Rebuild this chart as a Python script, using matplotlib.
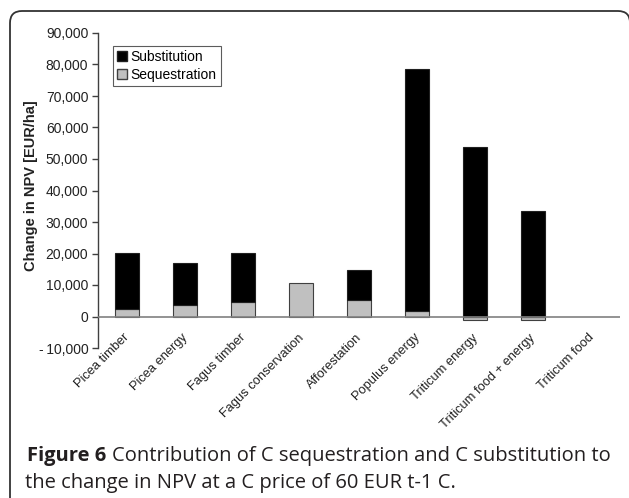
import matplotlib
matplotlib.use("Agg")
import matplotlib.pyplot as plt
from matplotlib.patches import FancyBboxPatch, Patch
from matplotlib.ticker import FuncFormatter
from matplotlib.transforms import IdentityTransform

categories = ["Picea timber", "Picea energy", "Fagus timber", "Fagus conservation",
              "Afforestation", "Populus energy", "Triticum energy",
              "Triticum food + energy", "Triticum food"]
sequestration = [2500, 3500, 4600, 10700, 5100, 1900, -1000, -1000, 0]
substitution = [17700, 13600, 15600, 0, 9600, 76800, 53700, 33400, 0]
yticks = [-10000, 0, 10000, 20000, 30000, 40000, 50000, 60000, 70000, 80000, 90000]

W, H = 629, 498
fig = plt.figure(figsize=(W / 100, H / 100), dpi=100)

# frame (pixel coordinates)
frame = FancyBboxPatch((10, -40), 620, (H - 11) + 40,
                       boxstyle="round,pad=0,rounding_size=12",
                       transform=IdentityTransform(), fill=False,
                       edgecolor="#333333", linewidth=1.3, clip_on=False)
fig.patches.append(frame)

ax = fig.add_axes([98 / W, (H - 348) / H, 522 / W, 315 / H])
x = list(range(len(categories)))
ax.bar(x, sequestration, width=0.4, color="#c0c0c0", edgecolor="#404040",
       linewidth=[0.8 if v else 0 for v in sequestration],
       label="Sequestration", zorder=2)
bottoms = [max(s, 0) for s in sequestration]
ax.bar(x, substitution, width=0.4, bottom=bottoms, color="black",
       edgecolor="#202020", linewidth=[0.8 if v else 0 for v in substitution],
       label="Substitution", zorder=2)
ax.axhline(0, color="#808080", linewidth=1.2, zorder=3)

ax.set_xlim(-0.5, 8.5)
ax.set_ylim(-10000, 90000)
ax.set_yticks(yticks)
ax.yaxis.set_major_formatter(FuncFormatter(lambda v, p: f"{int(v):,}".replace("-", "-\u2009")))
for s in ["top", "right", "bottom"]:
    ax.spines[s].set_visible(False)
ax.spines["left"].set_color("#404040")
ax.spines["left"].set_linewidth(1.0)
ax.tick_params(axis="y", direction="out", length=4, width=1.0, color="#404040",
               labelsize=10, labelcolor="#222222", pad=3)
for lab in ax.get_yticklabels():
    lab.set_fontfamily("Liberation Sans")
ax.set_xticks([])
for i, c in enumerate(categories):
    ax.text(i - 0.06, -4800, c, rotation=45, rotation_mode="anchor",
            ha="right", va="top", fontsize=9.3, family="Liberation Sans",
            color="#222222")

ax.set_ylabel("Change in NPV [EUR/ha]", fontsize=10.5, fontweight="bold",
              family="Liberation Sans", color="#222222")
ax.yaxis.set_label_coords(-0.115, 0.517)

handles = [Patch(facecolor="black", edgecolor="#202020", label="Substitution"),
           Patch(facecolor="#c0c0c0", edgecolor="#404040", label="Sequestration")]
leg = ax.legend(handles=handles, loc="upper left",
                bbox_to_anchor=((113 - 98) / 522, (348 - 46) / 315),
                frameon=True, fancybox=False, edgecolor="#333333",
                prop={"family": "Liberation Sans", "size": 10},
                handlelength=0.7, handleheight=0.7, handletextpad=0.25,
                borderpad=0.3, labelspacing=0.25, borderaxespad=0)
leg.get_frame().set_linewidth(0.8)

# caption
fig.canvas.draw()
r = fig.canvas.get_renderer()
cap_font = "Open Sans"
fs = 14.5
t1 = fig.text(27 / W, 1 - 461 / H, "Figure 6", fontsize=fs, fontweight="bold",
              family=cap_font, ha="left", va="baseline", color="#231f20")
bb = t1.get_window_extent(renderer=r)
fig.text((bb.x1 + 6) / W, 1 - 461 / H,
         "Contribution of C sequestration and C substitution to",
         fontsize=fs, family=cap_font, ha="left", va="baseline", color="#231f20")
fig.text(25 / W, 1 - 488 / H, "the change in NPV at a C price of 60 EUR t-1 C.",
         fontsize=fs, family=cap_font, ha="left", va="baseline", color="#231f20")

fig.savefig("out.png", dpi=100)
